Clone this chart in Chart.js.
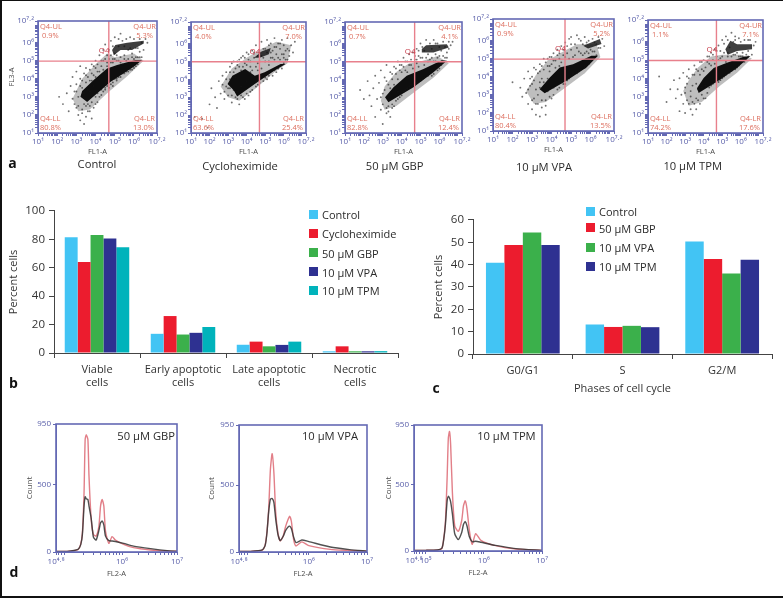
<!DOCTYPE html>
<html>
<head>
<meta charset="utf-8">
<script src="https://cdn.jsdelivr.net/npm/chart.js@4"></script>
<style>
  html, body { margin: 0; padding: 0; background: #fff; }
  #page { position: relative; width: 783px; height: 598px; overflow: hidden; font-family: "Open Sans", sans-serif; color: #2b2b2b; }
  #page canvas { position: absolute; }
  #edge { position: absolute; left: 0; top: 0; width: 783px; height: 598px; box-sizing: border-box; border-top: 1px solid #111; border-left: 2px solid #111; border-bottom: 2px solid #111; pointer-events: none; }
  .cap { position: absolute; transform: translate(-50%, -50%); white-space: nowrap; font-size: 11.2px; }
  .capR { position: absolute; transform: translate(-100%, -50%); white-space: nowrap; font-size: 11.2px; }
  .letter { position: absolute; transform: translate(-50%, -50%); font-weight: 700; font-size: 14px; color: #111; }
  .swatch { position: absolute; }
  .legtext { position: absolute; transform: translateY(-50%); white-space: nowrap; font-size: 11px; }
</style>
</head>
<body>
<div id="page"><div id="edge"></div></div>
<script>
// panel b
const apoptosisCategories = [['Viable', 'cells'], ['Early apoptotic', 'cells'], ['Late apoptotic', 'cells'], ['Necrotic', 'cells']];
const apoptosisNames = ['Control', 'Cycloheximide', '50 µM GBP', '10 µM VPA', '10 µM TPM'];
const apControl = [81.5, 13.5, 5.8, 1.2];
const apCyclo = [64, 26, 8, 4.7];
const apGBP = [83, 13, 4.7, 1.2];
const apVPA = [80.5, 14.2, 5.7, 1.2];
const apTPM = [74.5, 18.3, 8, 1.3];

// panel c
const cycleCategories = ['G0/G1', 'S', 'G2/M'];
const cycleNames = ['Control', '50 µM GBP', '10 µM VPA', '10 µM TPM'];
const ccControl = [40.8, 13.2, 50.3];
const ccGBP = [48.8, 12.1, 42.5];
const ccVPA = [54.4, 12.6, 36];
const ccTPM = [48.8, 12, 42.2];

// panel a: dot plots, values are decades (log10)
const gateX = 4.69;
const gateY = 4.98;
const controlQuad = ['0.9%', '5.3%', '80.8%', '13.0%'];
const controlCore = [[3.21,3.0],[3.56,2.72],[4.77,3.83],[5.99,4.67],[6.43,5.04],[6.08,5.04],[5.12,4.76],[4.6,4.57],[3.9,3.93],[3.3,3.33]];
const controlTop = [[4.86,5.59],[5.03,5.87],[5.64,6.0],[6.51,6.11],[6.51,5.96],[5.9,5.59],[5.3,5.59],[4.95,5.31]];
const controlHalo = [[2.8,2.9],[3.1,2.2],[3.7,2.3],[4.6,3.2],[5.6,4.1],[6.5,5.0],[6.0,5.4],[5.0,5.2],[4.6,5.4],[4.0,4.8],[3.3,4.0]];
const controlDots = [[2.1,3.0],[2.3,2.6],[2.5,3.2],[2.6,2.2],[2.7,3.6],[2.8,2.9],[2.8,4.1],[2.9,3.3],[3.0,2.4],[3.0,3.7],[3.0,4.4],[3.1,2.0],[3.1,3.0],[3.2,1.7],[3.2,4.0],[3.2,4.7],[3.3,2.3],[3.3,3.5],[3.4,1.5],[3.4,2.6],[3.4,4.3],[3.5,1.9],[3.5,3.8],[3.5,4.6],[3.6,2.2],[3.6,4.1],[3.7,2.5],[3.7,3.3],[3.7,4.5],[3.8,1.8],[3.8,3.9],[3.8,4.8],[3.9,2.4],[3.9,4.2],[4.0,4.6],[4.0,3.0],[4.0,5.0],[4.1,2.7],[4.1,4.4],[4.2,4.0],[4.2,5.3],[4.3,3.1],[4.3,4.7],[4.4,5.0],[4.4,5.6],[4.5,3.4],[4.5,4.4],[4.5,5.9],[4.6,4.9],[4.6,5.3],[4.7,3.5],[4.7,5.6],[4.8,4.9],[4.8,6.1],[4.9,3.6],[4.9,5.1],[5.0,4.0],[5.0,5.4],[5.0,6.3],[5.1,3.9],[5.1,5.0],[5.2,5.8],[5.3,4.1],[5.3,5.2],[5.3,6.5],[5.4,4.8],[5.4,6.1],[5.5,4.3],[5.5,5.3],[5.6,5.0],[5.6,6.2],[5.7,4.4],[5.7,5.6],[5.8,4.9],[5.9,4.5],[5.9,5.4],[6.0,5.1],[6.0,6.2],[6.1,4.7],[6.1,5.7],[6.2,5.2],[6.3,5.5],[6.4,6.0],[6.5,5.6],[6.6,6.2],[6.7,6.0],
  [2.9,2.6],[3.0,3.3],[3.1,2.5],[3.2,3.6],[3.3,2.1],[3.3,3.9],[3.4,3.2],[3.5,2.5],[3.5,4.2],[3.6,3.4],[3.6,2.6],[3.7,3.9],[3.7,2.2],[3.8,4.3],[3.8,2.7],[3.9,3.6],[3.9,4.7],[4.0,2.6],[4.0,4.1],[4.1,3.2],[4.1,4.8],[4.2,4.4],[4.2,3.0],[4.3,3.4],[4.3,5.0],[4.4,4.5],[4.4,3.3],[4.5,5.1],[4.5,3.5],[4.6,4.7],[4.6,3.6],[4.7,5.1],[4.8,3.7],[4.8,5.3],[4.9,4.9],[4.9,3.8],[5.0,5.1],[5.1,5.3],[5.1,4.0],[5.2,4.1],[5.2,5.0],[5.3,4.9],[5.4,4.3],[5.5,5.1],[5.6,4.4],[5.7,5.1],[5.8,4.5],[5.9,5.2],[6.0,4.6],[6.1,5.2],[6.2,4.8],[6.3,5.2],[6.4,5.2],[5.2,6.2],[5.5,5.8],[5.8,5.7],[6.2,5.7],[4.9,5.8],[5.8,6.3],[6.3,6.2]];

const cycloQuad = ['4.0%', '7.0%', '63.6%', '25.4%'];
const cycloCore = [[3.31,3.37],[3.49,3.04],[4.44,3.74],[5.49,4.48],[6.1,4.85],[5.83,4.85],[4.97,4.39],[4.44,4.2],[3.92,4.57],[3.23,4.2],[2.97,3.74]];
const cycloTop = [[4.4,5.2],[4.8,5.55],[5.3,5.75],[5.2,5.4],[4.7,5.2]];
const cycloHalo = [[2.6,3.6],[3.0,3.0],[3.6,2.8],[4.5,3.5],[5.5,4.4],[6.2,4.9],[6.4,5.9],[5.6,6.1],[4.8,5.7],[4.0,5.2],[3.2,4.6]];
const cycloDots = [[1.2,1.9],[1.6,1.8],[1.9,1.3],[2.0,2.6],[2.3,3.0],[2.1,3.5],[2.4,2.4],[2.5,3.9],[2.6,3.2],[2.7,4.2],[2.8,2.9],[2.9,3.6],[2.9,4.4],[3.0,3.1],[3.1,4.0],[3.1,4.7],[3.2,2.7],[3.3,4.4],[3.3,5.0],[3.4,3.0],[3.5,4.8],[3.6,5.1],[3.6,2.6],[3.7,4.5],[3.8,5.3],[3.9,4.9],[3.9,2.9],[4.0,5.5],[4.1,3.1],[4.1,5.1],[4.2,4.7],[4.3,5.6],[4.3,3.4],[4.4,5.2],[4.5,5.9],[4.6,4.9],[4.6,3.7],[4.7,5.5],[4.8,6.1],[4.9,5.2],[4.9,3.9],[5.0,5.7],[5.1,4.0],[5.1,6.2],[5.2,5.0],[5.3,5.5],[5.3,6.0],[5.4,4.2],[5.4,5.2],[5.5,5.8],[5.5,6.3],[5.6,4.4],[5.6,5.4],[5.7,6.0],[5.8,5.1],[5.8,5.7],[5.9,4.6],[5.9,6.2],[6.0,5.4],[6.0,5.9],[6.1,5.1],[6.2,5.7],[6.2,6.3],[6.3,5.3],[6.4,5.9],[6.5,5.5],[6.6,6.1],[3.4,4.1],[3.7,3.6],[4.0,3.9],[4.2,4.4],[3.1,3.5],[4.8,4.6],[5.2,4.8],[4.6,4.5],[3.5,3.3],
  [2.7,3.7],[2.8,3.3],[2.9,4.0],[3.0,3.5],[3.1,4.4],[3.2,3.1],[3.2,4.9],[3.3,3.4],[3.4,4.6],[3.5,5.0],[3.5,2.9],[3.6,4.7],[3.7,5.2],[3.7,3.1],[3.8,4.7],[3.8,3.0],[3.9,5.2],[4.0,4.8],[4.0,3.2],[4.1,5.4],[4.2,3.3],[4.2,5.0],[4.3,4.5],[4.4,5.5],[4.5,3.6],[4.5,4.7],[4.6,5.3],[4.7,5.0],[4.7,3.8],[4.8,5.3],[4.9,5.7],[5.0,5.0],[5.0,4.1],[5.1,5.5],[5.2,5.9],[5.2,4.2],[5.3,5.2],[5.4,5.6],[5.5,5.1],[5.5,4.5],[5.6,5.8],[5.7,5.2],[5.7,4.6],[5.8,6.0],[5.9,5.4],[6.0,5.2],[6.0,4.9],[6.1,5.6],[6.2,5.1],[6.3,5.6]];

const gbpQuad = ['0.7%', '4.1%', '82.8%', '12.4%'];
const gbpCore = [[3.12,3.0],[3.3,2.72],[4.63,3.56],[5.69,4.39],[6.4,5.04],[6.13,5.07],[5.16,4.57],[4.27,4.2],[3.57,3.56]];
const gbpTop = [[5.07,5.69],[5.3,5.9],[6.4,5.96],[6.5,5.78],[5.69,5.5],[5.07,5.5]];
const gbpHalo = [[2.9,2.8],[3.1,2.3],[3.7,2.5],[4.7,3.3],[5.7,4.1],[6.5,4.9],[5.9,5.3],[5.0,5.0],[4.4,4.9],[3.7,4.4],[3.1,3.6]];
const gbpDots = [[1.8,3.4],[2.0,2.9],[2.2,3.9],[2.3,3.1],[2.4,2.5],[2.5,3.5],[2.6,1.9],[2.6,4.2],[2.7,2.9],[2.8,3.8],[2.9,2.3],[2.9,4.5],[3.0,3.2],[3.0,1.5],[3.1,4.1],[3.2,2.1],[3.2,4.8],[3.3,3.7],[3.3,2.5],[3.4,4.4],[3.4,1.9],[3.5,2.4],[3.5,4.0],[3.6,4.7],[3.7,2.8],[3.7,4.3],[3.8,3.3],[3.8,5.0],[3.9,4.5],[4.0,3.1],[4.0,4.8],[4.1,5.2],[4.2,3.4],[4.2,4.5],[4.3,5.0],[4.4,5.4],[4.4,3.6],[4.5,4.8],[4.6,5.5],[4.7,3.7],[4.7,5.1],[4.8,4.9],[4.8,5.7],[4.9,5.3],[5.0,3.9],[5.0,6.0],[5.1,5.2],[5.2,5.6],[5.2,4.1],[5.3,6.2],[5.4,5.0],[5.4,5.4],[5.5,6.0],[5.6,4.2],[5.6,5.2],[5.7,6.2],[5.8,5.0],[5.8,5.4],[5.9,6.0],[6.0,4.6],[6.0,5.3],[6.1,5.6],[6.2,6.1],[6.3,5.2],[6.4,5.5],[6.5,6.1],[6.6,5.9],[6.7,6.1],
  [2.9,3.0],[3.0,2.6],[3.1,3.4],[3.2,2.4],[3.2,3.9],[3.3,2.2],[3.4,3.5],[3.5,2.6],[3.5,4.3],[3.6,3.7],[3.6,2.5],[3.7,4.6],[3.8,2.9],[3.8,4.0],[3.9,3.0],[3.9,4.8],[4.0,4.4],[4.1,3.3],[4.1,4.7],[4.2,5.0],[4.3,3.5],[4.3,4.4],[4.4,4.8],[4.5,3.7],[4.5,5.1],[4.6,4.6],[4.7,5.3],[4.8,3.8],[4.8,5.1],[4.9,4.7],[4.9,5.6],[5.0,5.2],[5.1,4.0],[5.1,5.8],[5.2,4.8],[5.3,5.2],[5.4,4.2],[5.5,5.1],[5.6,5.7],[5.7,4.3],[5.7,5.0],[5.8,6.0],[5.9,4.5],[5.9,5.2],[6.0,5.8],[6.1,4.8],[6.2,5.3],[6.3,5.8],[6.4,5.2],[6.5,5.7]];

const vpaQuad = ['0.9%', '5.2%', '80.4%', '13.5%'];
const vpaCore = [[3.39,3.31],[3.65,3.09],[4.76,3.78],[5.79,4.52],[6.38,5.17],[6.04,5.17],[5.1,4.7],[4.42,4.52],[3.91,3.96]];
const vpaTop = [[5.62,5.72],[6.47,6.09],[6.56,5.81],[5.87,5.57]];
const vpaHalo = [[2.7,3.2],[3.1,2.5],[3.7,2.6],[4.7,3.4],[5.7,4.2],[6.5,5.1],[6.3,5.8],[5.3,5.8],[4.6,5.4],[3.8,4.9],[3.2,4.1]];
const vpaDots = [[2.0,3.7],[2.4,3.4],[2.5,2.9],[2.6,3.9],[2.7,3.1],[2.8,2.5],[2.8,4.3],[2.9,3.5],[3.0,2.2],[3.0,4.0],[3.1,2.8],[3.1,4.5],[3.2,1.9],[3.2,3.3],[3.3,4.2],[3.3,2.5],[3.4,4.7],[3.4,1.8],[3.5,2.3],[3.5,3.9],[3.6,4.4],[3.6,5.0],[3.7,2.7],[3.7,1.9],[3.8,4.6],[3.8,3.2],[3.9,5.1],[4.0,2.8],[4.0,4.7],[4.1,3.4],[4.1,5.3],[4.2,4.9],[4.3,3.3],[4.3,5.5],[4.4,5.0],[4.5,3.7],[4.5,5.7],[4.6,5.2],[4.7,3.6],[4.7,5.9],[4.8,5.3],[4.9,6.1],[4.9,3.9],[5.0,5.5],[5.1,4.1],[5.1,5.1],[5.2,5.8],[5.3,6.3],[5.3,4.2],[5.4,5.4],[5.5,6.0],[5.5,4.4],[5.6,5.2],[5.7,6.2],[5.7,4.6],[5.8,5.4],[5.9,4.7],[5.9,6.0],[6.0,5.5],[6.1,6.1],[6.2,5.4],[6.3,5.8],[6.4,6.2],[6.5,5.6],[6.6,6.1],[6.7,5.7],[3.0,3.6],[3.4,3.7],[3.9,4.3],[4.4,4.6],
  [2.8,3.3],[2.9,3.9],[3.0,2.7],[3.1,3.8],[3.2,2.5],[3.2,4.4],[3.3,3.0],[3.4,3.4],[3.4,4.3],[3.5,2.7],[3.5,4.6],[3.6,3.7],[3.7,4.8],[3.7,2.4],[3.8,3.9],[3.8,5.0],[3.9,2.9],[3.9,4.6],[4.0,5.1],[4.1,3.0],[4.1,4.9],[4.2,4.5],[4.3,5.2],[4.4,3.4],[4.4,5.3],[4.5,4.8],[4.6,3.6],[4.6,5.5],[4.7,5.1],[4.8,3.8],[4.8,5.7],[4.9,5.0],[5.0,5.8],[5.1,4.2],[5.2,5.2],[5.3,5.6],[5.4,4.3],[5.5,5.3],[5.6,5.8],[5.7,4.5],[5.7,5.3],[5.8,5.9],[5.9,5.3],[6.0,4.9],[6.1,5.4],[6.2,5.9],[6.3,5.2],[6.4,5.6],[5.0,6.2],[5.4,6.1]];

const tpmQuad = ['1.1%', '7.1%', '74.2%', '17.6%'];
const tpmCore = [[3.64,3.46],[3.73,3.19],[4.9,3.93],[5.8,4.57],[6.52,5.22],[6.16,5.19],[5.26,4.85],[4.54,4.57],[4.0,4.02]];
const tpmTop = [[5.17,5.59],[5.44,6.06],[5.8,5.87],[6.61,5.87],[6.61,5.59],[5.8,5.5],[5.3,5.3]];
const tpmHalo = [[2.9,3.3],[3.2,2.5],[3.9,2.7],[4.9,3.6],[5.8,4.3],[6.6,5.1],[6.0,5.3],[5.0,5.3],[4.4,5.2],[3.7,4.6],[3.2,3.9]];
const tpmDots = [[1.6,4.1],[2.0,2.7],[2.2,3.4],[2.4,3.9],[2.5,2.9],[2.6,3.4],[2.7,2.2],[2.7,4.0],[2.8,3.1],[2.9,2.6],[2.9,4.3],[3.0,3.5],[3.0,2.1],[3.1,4.1],[3.1,2.8],[3.2,4.5],[3.3,2.3],[3.3,3.3],[3.4,4.2],[3.4,2.0],[3.5,4.7],[3.5,2.6],[3.6,3.7],[3.6,2.3],[3.7,4.4],[3.7,2.8],[3.8,4.9],[3.9,3.1],[3.9,4.5],[4.0,5.0],[4.1,2.9],[4.1,4.6],[4.2,5.2],[4.3,3.5],[4.3,4.8],[4.4,5.4],[4.5,5.0],[4.5,3.7],[4.6,5.6],[4.7,5.2],[4.8,3.8],[4.8,5.8],[4.9,5.1],[5.0,6.1],[5.0,4.0],[5.1,5.4],[5.2,6.3],[5.2,4.2],[5.3,5.2],[5.4,5.7],[5.5,6.5],[5.5,4.4],[5.6,5.3],[5.7,6.1],[5.8,4.6],[5.8,5.4],[5.9,6.2],[6.0,5.2],[6.1,4.9],[6.1,5.4],[6.2,6.1],[6.3,5.3],[6.4,5.5],[6.5,6.1],[6.6,5.3],[6.7,5.8],[6.8,6.0],
  [3.0,3.2],[3.1,3.7],[3.2,2.6],[3.2,4.0],[3.3,3.0],[3.4,3.6],[3.4,2.7],[3.5,4.2],[3.6,2.9],[3.6,4.5],[3.7,3.4],[3.8,2.6],[3.8,4.2],[3.9,3.5],[3.9,4.9],[4.0,2.9],[4.0,4.4],[4.1,3.6],[4.2,4.9],[4.2,3.2],[4.3,5.2],[4.4,3.6],[4.4,4.7],[4.5,5.3],[4.6,4.8],[4.6,3.8],[4.7,5.5],[4.8,5.0],[4.9,3.9],[4.9,5.5],[5.0,5.2],[5.1,4.1],[5.1,5.9],[5.2,4.9],[5.3,5.4],[5.4,4.3],[5.5,5.2],[5.6,6.0],[5.7,4.5],[5.7,5.3],[5.9,4.7],[5.9,5.2],[6.0,6.0],[6.1,5.2],[6.2,4.9],[6.3,5.0],[6.4,5.2],[6.4,6.1],[5.3,6.1],[5.7,6.3]];

// panel d: histograms, x in decades, y in counts
const gbpHistX = [4.8,5.0,5.2,5.25,5.28,5.31,5.33,5.35,5.38,5.4,5.44,5.48,5.53,5.58,5.61,5.64,5.67,5.7,5.76,5.82,5.88,6.03,6.21,6.52,6.82,7];
const gbpHistRed = [5,5,18,60,143,440,835,871,835,563,242,131,118,193,341,390,341,155,64,114,89,57,32,15,7,5];
const gbpHistBlack = [5,5,20,55,131,340,410,395,390,341,250,110,89,160,217,230,200,118,84,82,78,64,44,25,10,5];
const vpaHistX = [4.8,5.0,5.2,5.25,5.28,5.31,5.34,5.37,5.4,5.43,5.47,5.51,5.56,5.6,5.64,5.67,5.7,5.74,5.78,5.88,6.0,6.37,6.7,7];
const vpaHistRed = [5,5,14,55,150,320,620,736,590,300,140,82,120,190,240,267,230,90,45,76,48,20,12,6];
const vpaHistBlack = [5,5,16,50,140,300,395,400,370,250,130,85,118,160,185,193,175,110,70,90,78,37,18,6];
const tpmHistX = [4.8,5.0,5.2,5.28,5.31,5.34,5.37,5.39,5.41,5.43,5.46,5.5,5.56,5.62,5.65,5.68,5.71,5.75,5.8,5.86,5.95,6.2,6.55,7];
const tpmHistRed = [5,5,8,20,90,220,560,850,901,800,440,190,148,230,340,378,320,160,50,131,80,40,15,5];
const tpmHistBlack = [5,5,8,22,85,200,380,412,400,370,280,130,86,140,200,222,190,110,70,74,66,42,18,5];

const decadeTicks = [1, 2, 3, 4, 5, 6, 7.2];
const decadeLabels = ['10¹', '10²', '10³', '10⁴', '10⁵', '10⁶', '10⁷·²'];

const barColors = { control: '#42c4f4', red: '#ec1c2e', green: '#3bb04b', navy: '#2e3191', teal: '#00b3bb' };
const blue = '#6469b4';
const blueText = '#565ca8';
const labelRed = '#dd6f5f';
const gateRed = '#e8808c';
const page = document.getElementById('page');
const FONT = '"Open Sans", sans-serif';

function makeCanvas(plot, m) {
  const c = document.createElement('canvas');
  const w = Math.round(plot.r - plot.l + m.l + m.r);
  const h = Math.round(plot.b - plot.t + m.t + m.b);
  c.width = w;
  c.height = h;
  c.style.left = (plot.l - m.l) + 'px';
  c.style.top = (plot.t - m.t) + 'px';
  c.style.width = w + 'px';
  c.style.height = h + 'px';
  page.appendChild(c);
  return c;
}

function logMinors(from, to) {
  const out = [];
  for (let d = Math.floor(from); d < to; d++) {
    [2, 3, 4, 5, 6, 7, 8, 9].forEach(k => {
      const v = d + Math.log10(k);
      if (v > from && v < to) out.push(v);
    });
  }
  return out;
}

const framePlugin = {
  id: 'frame',
  afterDraw(chart) {
    const a = chart.chartArea;
    const ctx = chart.ctx;
    ctx.save();
    ctx.strokeStyle = blue;
    ctx.lineWidth = 1.6;
    ctx.strokeRect(a.left, a.top, a.right - a.left, a.bottom - a.top);
    ctx.restore();
  },
};

const quadPlugin = {
  id: 'quad',
  afterDatasetsDraw(chart, args, opts) {
    const a = chart.chartArea;
    const ctx = chart.ctx;
    const v = opts.values;
    ctx.save();
    ctx.fillStyle = labelRed;
    ctx.font = '7.5px ' + FONT;
    ctx.textBaseline = 'middle';
    ctx.textAlign = 'left';
    ctx.fillText('Q4-UL', a.left + 2, a.top + 5.5);
    ctx.fillText(v[0], a.left + 4, a.top + 14.5);
    ctx.fillText('Q4-LL', a.left + 2, a.bottom - 14.5);
    ctx.fillText(v[2], a.left + 2, a.bottom - 5.5);
    ctx.textAlign = 'right';
    ctx.fillText('Q4-UR', a.right - 1, a.top + 5.5);
    ctx.fillText(v[1], a.right - 4, a.top + 14.5);
    ctx.fillText('Q4-LR', a.right - 2, a.bottom - 14.5);
    ctx.fillText(v[3], a.right - 3, a.bottom - 5.5);
    ctx.fillStyle = '#c9404e';
    ctx.font = '8px ' + FONT;
    ctx.textAlign = 'center';
    ctx.fillText('Q4', chart.scales.x.getPixelForValue(4.45), chart.scales.y.getPixelForValue(5.55));
    ctx.restore();
  },
};

function toXY(list) {
  return list.map(p => ({ x: p[0], y: p[1] }));
}

function shape(list, color) {
  return { type: 'line', data: toXY(list), borderWidth: 0, borderColor: color, backgroundColor: color, fill: 'shape', pointRadius: 0, tension: 0 };
}

function dotPanel(plot, m, quad, core, top, halo, dots, title) {
  const minors = logMinors(1, 7.2);
  const axisTicks = decadeTicks.concat(minors);
  const tickLabel = v => {
    const i = decadeTicks.indexOf(v);
    return i >= 0 ? decadeLabels[i] : '';
  };
  const mkScale = (size, titleText, pad) => ({
    type: 'linear',
    min: 1,
    max: 7.2,
    afterBuildTicks: s => { s.ticks = axisTicks.slice().sort((a, b) => a - b).map(v => ({ value: v })); },
    afterFit: s => { if (s.isHorizontal()) s.height = size; else s.width = size; },
    grid: { drawOnChartArea: false, tickLength: 3, color: blue },
    border: { color: blue },
    ticks: { callback: tickLabel, autoSkip: false, maxRotation: 0, color: blueText, font: { size: 8, family: FONT }, padding: pad },
    title: { display: !!titleText, text: titleText, color: '#4a4a4a', font: { size: 7.5, family: FONT }, padding: 0 },
  });
  new Chart(makeCanvas(plot, m), {
    type: 'scatter',
    data: {
      datasets: [
        { type: 'line', data: [{ x: gateX, y: 1 }, { x: gateX, y: 7.2 }], borderColor: gateRed, borderWidth: 1.4, pointRadius: 0 },
        { type: 'line', data: [{ x: 1, y: gateY }, { x: 7.2, y: gateY }], borderColor: gateRed, borderWidth: 1.4, pointRadius: 0 },
        { data: toXY(dots), pointRadius: 0.95, pointBorderWidth: 0, pointBackgroundColor: 'rgba(20,20,20,.6)' },
        shape(core, '#0e0e0e'),
        shape(top, 'rgba(15,15,15,.8)'),
        shape(halo, 'rgba(40,40,40,.3)'),
      ],
    },
    options: {
      responsive: false,
      animation: false,
      layout: { padding: { left: 0, top: m.t, right: m.r, bottom: 0 } },
      plugins: { legend: { display: false }, tooltip: { enabled: false }, quad: { values: quad } },
      scales: { x: mkScale(m.b, 'FL1-A', 1), y: mkScale(m.l, title, 1) },
    },
    plugins: [framePlugin, quadPlugin],
  });
}

function histPanel(plot, m, xs, red, black, majors, majorLabels) {
  const axisTicks = [4.8].concat(logMinors(4.8, 7), majors.filter(v => v !== 4.8));
  new Chart(makeCanvas(plot, m), {
    type: 'scatter',
    data: {
      datasets: [
        { data: xs.map((x, i) => ({ x, y: black[i] })), showLine: true, borderColor: 'rgba(50,50,50,.85)', borderWidth: 1.4, pointRadius: 0, tension: 0.2 },
        { data: xs.map((x, i) => ({ x, y: red[i] })), showLine: true, borderColor: '#e27f88', borderWidth: 1.4, pointRadius: 0, tension: 0.2 },
      ],
    },
    options: {
      responsive: false,
      animation: false,
      layout: { padding: { left: 0, top: m.t, right: m.r, bottom: 0 } },
      plugins: { legend: { display: false }, tooltip: { enabled: false } },
      scales: {
        x: {
          type: 'linear',
          min: 4.8,
          max: 7,
          afterBuildTicks: s => { s.ticks = axisTicks.slice().sort((a, b) => a - b).map(v => ({ value: v })); },
          afterFit: s => { s.height = m.b; },
          grid: { drawOnChartArea: false, tickLength: 3, color: blue },
          border: { color: blue },
          ticks: {
            callback: v => { const i = majors.indexOf(v); return i >= 0 ? majorLabels[i] : ''; },
            autoSkip: false,
            maxRotation: 0,
            color: blueText,
            font: { size: 8, family: FONT },
            padding: 2,
          },
          title: { display: true, text: 'FL2-A', color: '#4a4a4a', font: { size: 7.5, family: FONT }, padding: 0 },
        },
        y: {
          min: 0,
          max: 950,
          afterBuildTicks: s => { s.ticks = [0, 500, 950].map(v => ({ value: v })); },
          afterFit: s => { s.width = m.l; },
          grid: { drawOnChartArea: false, tickLength: 3, color: blue },
          border: { color: blue },
          ticks: { color: blueText, font: { size: 8, family: FONT }, padding: 2 },
          title: { display: true, text: 'Count', color: '#4a4a4a', font: { size: 8, family: FONT }, padding: 0 },
        },
      },
    },
    plugins: [framePlugin],
  });
}

function barPanel(plot, m, cats, names, series, colors, maxV, step, catPct, xTitle, yTitle) {
  new Chart(makeCanvas(plot, m), {
    type: 'bar',
    data: {
      labels: cats,
      datasets: series.map((s, i) => ({ label: names[i], data: s, backgroundColor: colors[i], categoryPercentage: catPct, barPercentage: 1 })),
    },
    options: {
      responsive: false,
      animation: false,
      layout: { padding: { left: 0, top: m.t, right: m.r, bottom: 0 } },
      plugins: { legend: { display: false }, tooltip: { enabled: false } },
      scales: {
        x: {
          afterFit: s => { s.height = m.b; },
          grid: { drawOnChartArea: false, offset: true, tickLength: 5, color: '#444' },
          border: { color: '#444' },
          ticks: { color: '#333', maxRotation: 0, autoSkip: false, font: { size: 11, family: FONT }, padding: 5 },
          title: { display: !!xTitle, text: xTitle, color: '#333', font: { size: 11, family: FONT }, padding: 0 },
        },
        y: {
          min: 0,
          max: maxV,
          afterFit: s => { s.width = m.l; },
          grid: { drawOnChartArea: false, tickLength: 5, color: '#444' },
          border: { color: '#444' },
          ticks: { stepSize: step, color: '#333', font: { size: 11.5, family: FONT }, padding: 4 },
          title: { display: true, text: yTitle, color: '#333', font: { size: 11, family: FONT }, padding: 0 },
        },
      },
    },
  });
}

function addText(cls, text, x, y) {
  const d = document.createElement('div');
  d.className = cls;
  d.textContent = text;
  d.style.left = x + 'px';
  d.style.top = y + 'px';
  page.appendChild(d);
}

function addLegend(names, colors, rows, swatchX, swatchW, textX) {
  names.forEach((name, i) => {
    const s = document.createElement('div');
    s.className = 'swatch';
    s.style.cssText = `left:${swatchX}px;top:${rows[i] - swatchW / 2}px;width:${swatchW}px;height:${swatchW}px;background:${colors[i]}`;
    page.appendChild(s);
    addText('legtext', name, textX, rows[i]);
  });
}

dotPanel({ l: 37.7, t: 21.3, r: 156.7, b: 133 }, { l: 31, t: 8, r: 14, b: 23 }, controlQuad, controlCore, controlTop, controlHalo, controlDots, 'FL3-A');
dotPanel({ l: 190.7, t: 22, r: 305.7, b: 133 }, { l: 24, t: 8, r: 14, b: 23 }, cycloQuad, cycloCore, cycloTop, cycloHalo, cycloDots, '');
dotPanel({ l: 345, t: 21.7, r: 461.7, b: 132.7 }, { l: 24, t: 8, r: 14, b: 23 }, gbpQuad, gbpCore, gbpTop, gbpHalo, gbpDots, '');
dotPanel({ l: 493.3, t: 19.3, r: 614.3, b: 131.7 }, { l: 24, t: 8, r: 14, b: 23 }, vpaQuad, vpaCore, vpaTop, vpaHalo, vpaDots, '');
dotPanel({ l: 647.7, t: 20, r: 762.7, b: 132.7 }, { l: 24, t: 8, r: 14, b: 23 }, tpmQuad, tpmCore, tpmTop, tpmHalo, tpmDots, '');

const apColors = [barColors.control, barColors.red, barColors.green, barColors.navy, barColors.teal];
const ccColors = [barColors.control, barColors.red, barColors.green, barColors.navy];
barPanel({ l: 54, t: 208.3, r: 398, b: 353.3 }, { l: 47, t: 8, r: 6, b: 42 }, apoptosisCategories, apoptosisNames, [apControl, apCyclo, apGBP, apVPA, apTPM], apColors, 100, 20, 0.75, '', 'Percent cells');
barPanel({ l: 473.3, t: 216.7, r: 772.7, b: 353.7 }, { l: 41, t: 8, r: 6, b: 41 }, cycleCategories, cycleNames, [ccControl, ccGBP, ccVPA, ccTPM], ccColors, 60, 10, 0.74, 'Phases of cell cycle', 'Percent cells');

const tenMajorsA = [4.8, 6, 7];
const tenMajorsB = [4.8, 5, 6, 7];
histPanel({ l: 55.7, t: 424.3, r: 176.7, b: 552.7 }, { l: 31, t: 8, r: 12, b: 26 }, gbpHistX, gbpHistRed, gbpHistBlack, tenMajorsA, ['10⁴·⁸', '10⁶', '10⁷']);
histPanel({ l: 239, t: 425, r: 366.7, b: 552.3 }, { l: 32, t: 8, r: 12, b: 26 }, vpaHistX, vpaHistRed, vpaHistBlack, tenMajorsA, ['10⁴·⁸', '10⁶', '10⁷']);
histPanel({ l: 414, t: 425.3, r: 541.7, b: 551.7 }, { l: 30, t: 8, r: 12, b: 26 }, tpmHistX, tpmHistRed, tpmHistBlack, tenMajorsB, ['10⁴·⁸', '10⁵', '10⁶', '10⁷']);

addLegend(apoptosisNames, apColors, [214.3, 233.3, 252.7, 271.7, 290.3], 309.3, 8.5, 322);
addLegend(cycleNames, ccColors, [211, 227.7, 247.3, 266], 586, 9, 599);

addText('cap', 'Control', 97, 163);
addText('cap', 'Cycloheximide', 240, 165);
addText('cap', '50 µM GBP', 394.7, 165);
addText('cap', '10 µM VPA', 544, 166);
addText('cap', '10 µM TPM', 692.7, 165);
addText('capR', '50 µM GBP', 175, 435);
addText('capR', '10 µM VPA', 358, 434.5);
addText('capR', '10 µM TPM', 535.7, 434.5);
addText('letter', 'a', 12.5, 162);
addText('letter', 'b', 13.5, 382);
addText('letter', 'c', 436, 387);
addText('letter', 'd', 14, 571);
</script>
</body>
</html>
